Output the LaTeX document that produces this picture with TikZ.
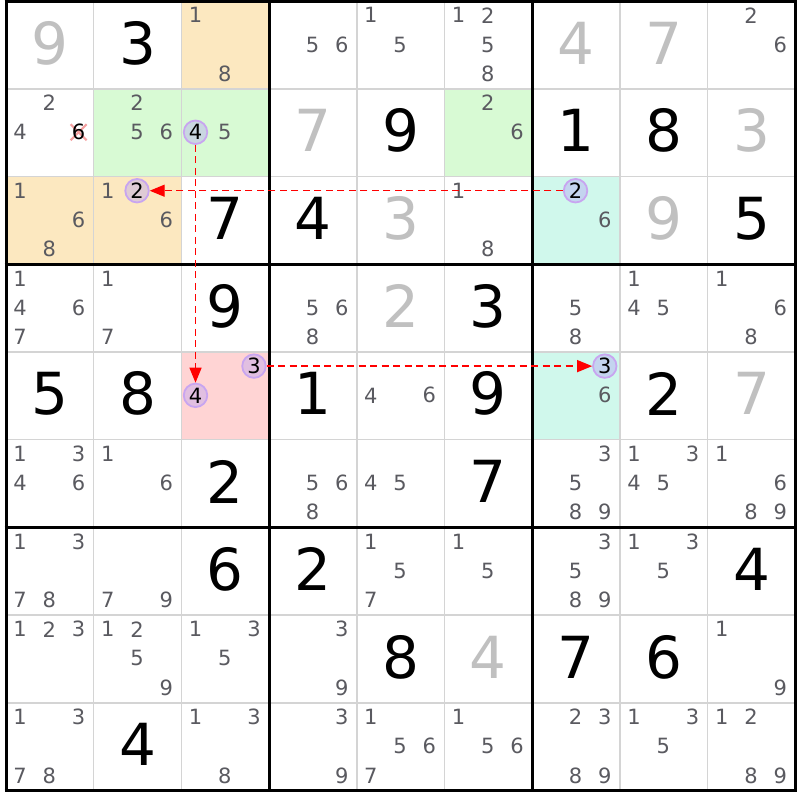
\documentclass[tikz,border=0pt]{standalone}
\usepackage{fontspec}
\setmainfont{DejaVu Sans}
\usetikzlibrary{arrows.meta}
\definecolor{bgorange}{RGB}{252,232,192}
\definecolor{bggreen}{RGB}{216,250,212}
\definecolor{bgcyan}{RGB}{208,248,236}
\definecolor{bgpink}{RGB}{255,212,212}
\definecolor{gridthin}{RGB}{212,212,212}
\definecolor{solvedgray}{RGB}{192,192,192}
\definecolor{candgray}{RGB}{90,90,96}
\definecolor{hlline}{RGB}{200,165,240}
\definecolor{hlfill}{RGB}{180,160,245}
\definecolor{xpink}{RGB}{244,160,160}
\def\cs{87.7}
\newcommand\candxy[3]{%
  \pgfmathtruncatemacro\ccol{mod(#3-1,3)}%
  \pgfmathtruncatemacro\crow{floor((#3-1)/3)}%
  \pgfmathsetmacro\cx{6+(#2-1)*\cs+(2*\ccol+1)*\cs/6-0.5}%
  \pgfmathsetmacro\cy{1.2+(#1-1)*\cs+(2*\crow+1)*\cs/6-0.5}}
\newcommand\candset[3]{\foreach \d in {#3}{\candxy{#1}{#2}{\d}\node[cand] (c#1#2\d) at (\cx,\cy) {\d};}}
\newcommand\hcand[4]{\candxy{#1}{#2}{#3}\node[hl] (#4) at (\cx,\cy) {#3};}
\newcommand\gvn[4]{\node[#4] (g#1#2) at ({6+(#2-0.5)*\cs},{1.2+(#1-0.5)*\cs-2}) {#3};}
\newcommand\cellbg[3]{\fill[#3] ({6+(#2-1)*\cs},{1.2+(#1-1)*\cs}) rectangle ({6+#2*\cs},{1.2+#1*\cs});}
\begin{document}
\begin{tikzpicture}[x=1pt,y=-1pt,
  bigblack/.style={inner sep=0pt,text=black,font=\fontsize{58}{58}\selectfont},
  biggray/.style={inner sep=0pt,text=solvedgray,font=\fontsize{58}{58}\selectfont},
  cand/.style={inner sep=0pt,text=candgray,font=\fontsize{21}{21}\selectfont},
  hl/.style={circle,draw=hlline,line width=1.8pt,fill=hlfill,fill opacity=0.4,text opacity=1,
    minimum size=23.5pt,inner sep=0pt,text=black,font=\fontsize{21}{21}\selectfont},
  arrowline/.style={draw=red,line width=1.4pt,dash pattern=on 7pt off 4.5pt,
    -{Triangle[length=15pt,width=12pt]}},
  thinline/.style={draw=gridthin,line width=1.5pt},
  thickline/.style={draw=black,line width=3pt},
  xmark/.style={draw=xpink,line width=2.2pt}]
\useasboundingbox (0,0) rectangle (800,800);
\fill[white] (0,0) rectangle (800,800);
% highlighted cell backgrounds
\cellbg{1}{3}{bgorange}\cellbg{3}{1}{bgorange}\cellbg{3}{2}{bgorange}
\cellbg{2}{2}{bggreen}\cellbg{2}{3}{bggreen}\cellbg{2}{6}{bggreen}
\cellbg{3}{7}{bgcyan}\cellbg{5}{7}{bgcyan}
\cellbg{5}{3}{bgpink}
% grid
\foreach \i in {1,2,4,5,7,8}{
  \draw[thinline] ({6+\i*\cs},1.2) -- ({6+\i*\cs},{1.2+9*\cs});
  \draw[thinline] (6,{1.2+\i*\cs}) -- ({6+9*\cs},{1.2+\i*\cs});
}
\foreach \i in {0,3,6,9}{
  \draw[thickline] ({6+\i*\cs},{1.2-1.5}) -- ({6+\i*\cs},{1.2+9*\cs+1.5});
  \draw[thickline] ({6-1.5},{1.2+\i*\cs}) -- ({6+9*\cs+1.5},{1.2+\i*\cs});
}
% given digits
\gvn{1}{2}{3}{bigblack}\gvn{2}{5}{9}{bigblack}\gvn{2}{7}{1}{bigblack}\gvn{2}{8}{8}{bigblack}
\gvn{3}{3}{7}{bigblack}\gvn{3}{4}{4}{bigblack}\gvn{3}{9}{5}{bigblack}
\gvn{4}{3}{9}{bigblack}\gvn{4}{6}{3}{bigblack}
\gvn{5}{1}{5}{bigblack}\gvn{5}{2}{8}{bigblack}\gvn{5}{4}{1}{bigblack}\gvn{5}{6}{9}{bigblack}\gvn{5}{8}{2}{bigblack}
\gvn{6}{3}{2}{bigblack}\gvn{6}{6}{7}{bigblack}
\gvn{7}{3}{6}{bigblack}\gvn{7}{4}{2}{bigblack}\gvn{7}{9}{4}{bigblack}
\gvn{8}{5}{8}{bigblack}\gvn{8}{7}{7}{bigblack}\gvn{8}{8}{6}{bigblack}
\gvn{9}{2}{4}{bigblack}
% solved digits
\gvn{1}{1}{9}{biggray}\gvn{1}{7}{4}{biggray}\gvn{1}{8}{7}{biggray}
\gvn{2}{4}{7}{biggray}\gvn{2}{9}{3}{biggray}
\gvn{3}{5}{3}{biggray}\gvn{3}{8}{9}{biggray}
\gvn{4}{5}{2}{biggray}\gvn{5}{9}{7}{biggray}\gvn{8}{6}{4}{biggray}
% candidates
\candset{1}{3}{1,8}\candset{1}{4}{5,6}\candset{1}{5}{1,5}\candset{1}{6}{1,2,5,8}\candset{1}{9}{2,6}
\candset{2}{1}{2,4}\candset{2}{2}{2,5,6}\candset{2}{3}{5}\candset{2}{6}{2,6}
\candset{3}{1}{1,6,8}\candset{3}{2}{1,6}\candset{3}{6}{1,8}\candset{3}{7}{6}
\candset{4}{1}{1,4,6,7}\candset{4}{2}{1,7}\candset{4}{4}{5,6,8}\candset{4}{7}{5,8}\candset{4}{8}{1,4,5}\candset{4}{9}{1,6,8}
\candset{5}{5}{4,6}\candset{5}{7}{6}
\candset{6}{1}{1,3,4,6}\candset{6}{2}{1,6}\candset{6}{4}{5,6,8}\candset{6}{5}{4,5}\candset{6}{7}{3,5,8,9}\candset{6}{8}{1,3,4,5}\candset{6}{9}{1,6,8,9}
\candset{7}{1}{1,3,7,8}\candset{7}{2}{7,9}\candset{7}{5}{1,5,7}\candset{7}{6}{1,5}\candset{7}{7}{3,5,8,9}\candset{7}{8}{1,3,5}
\candset{8}{1}{1,2,3}\candset{8}{2}{1,2,5,9}\candset{8}{3}{1,3,5}\candset{8}{4}{3,9}\candset{8}{9}{1,9}
\candset{9}{1}{1,3,7,8}\candset{9}{3}{1,3,8}\candset{9}{4}{3,9}\candset{9}{5}{1,5,6,7}\candset{9}{6}{1,5,6}\candset{9}{7}{2,3,8,9}\candset{9}{8}{1,3,5}\candset{9}{9}{1,2,8,9}
% eliminated candidate
\candxy{2}{1}{6}
\coordinate (xc) at (\cx,\cy);
\draw[xmark] ([shift={(-8,-8)}]xc) -- ([shift={(8,8)}]xc);
\draw[xmark] ([shift={(-8,8)}]xc) -- ([shift={(8,-8)}]xc);
\node[cand,text=black] (c216) at (xc) {6};
% highlighted candidates
\hcand{2}{3}{4}{h23}
\hcand{3}{2}{2}{h32}
\hcand{3}{7}{2}{h37}
\hcand{5}{3}{3}{h53a}
\hcand{5}{3}{4}{h53b}
\hcand{5}{7}{3}{h57}
% links
\draw[arrowline] (h37) -- (h32);
\draw[arrowline] (h23) -- (h53b);
\draw[arrowline] (h53a) -- (h57);
\end{tikzpicture}
\end{document}
